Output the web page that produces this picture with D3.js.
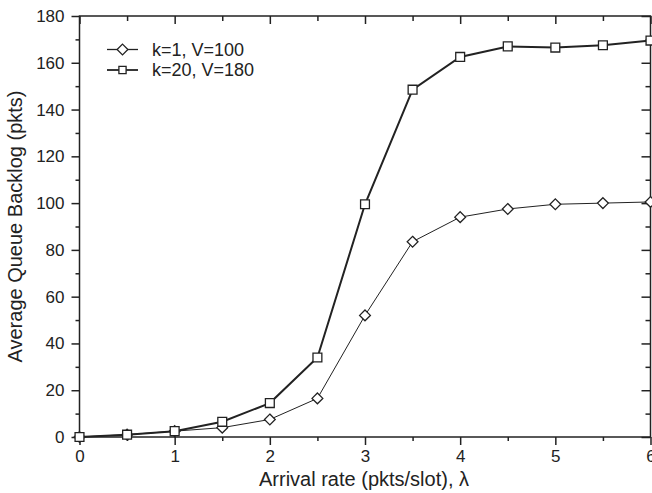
<!DOCTYPE html>
<html>
<head>
<meta charset="utf-8">
<script src="https://cdn.jsdelivr.net/npm/d3@7"></script>
<style>
  body { margin: 0; background: #fff; }
  svg text { font-family: "Liberation Sans", Arial, sans-serif; fill: #222; }
</style>
</head>
<body>
<div id="chart"></div>
<script>
// Data
const lambdas = [0, 0.5, 1, 1.5, 2, 2.5, 3, 3.5, 4, 4.5, 5, 5.5, 6];
const backlogK1 = [0, 1, 2.5, 4, 7.5, 16.5, 52, 83.5, 94, 97.5, 99.5, 100, 100.5];
const backlogK20 = [0, 1, 2.5, 6.5, 14.5, 34, 99.5, 148.5, 162.5, 167, 166.5, 167.5, 169.5];
const xTicks = [0, 1, 2, 3, 4, 5, 6];
const yTicks = [0, 20, 40, 60, 80, 100, 120, 140, 160, 180];
const seriesNames = ["k=1, V=100", "k=20, V=180"];

// Dimensions
const dims = { width: 652, height: 493, margin: { top: 16, right: 2, bottom: 56, left: 79.5 } };
dims.ctrWidth = 650.5 - dims.margin.left;
dims.ctrHeight = 437 - dims.margin.top;

const svg = d3.select("#chart").append("svg")
  .attr("width", dims.width)
  .attr("height", dims.height);

const ctr = svg.append("g")
  .attr("transform", `translate(${dims.margin.left}, ${dims.margin.top})`);

// Scales
const xScale = d3.scaleLinear().domain([0, 6]).range([0, dims.ctrWidth]);
const yScale = d3.scaleLinear().domain([0, 180]).range([dims.ctrHeight, 0]);

const ink = "#222";

// Axes: bottom/left ticks outward, top/right mirrored ticks inward
const minorX = d3.range(0.5, 6, 1);
const minorY = d3.range(10, 180, 20);

function styleAxis(g) {
  g.select(".domain").remove();
  g.selectAll("line").attr("stroke", ink).attr("stroke-width", 1.5);
  g.selectAll("text").style("font-size", "17px").attr("fill", ink);
}

ctr.append("g").attr("transform", `translate(0,${dims.ctrHeight})`)
  .call(d3.axisBottom(xScale).tickValues(xTicks).tickSize(8).tickPadding(5).tickFormat(d3.format("d")))
  .call(styleAxis);
ctr.append("g").attr("transform", `translate(0,${dims.ctrHeight})`)
  .call(d3.axisBottom(xScale).tickValues(minorX).tickSize(4).tickFormat(""))
  .call(styleAxis);
ctr.append("g")
  .call(d3.axisTop(xScale).tickValues(xTicks).tickSize(-8).tickFormat(""))
  .call(styleAxis);
ctr.append("g")
  .call(d3.axisTop(xScale).tickValues(minorX).tickSize(-5).tickFormat(""))
  .call(styleAxis);

ctr.append("g")
  .call(d3.axisLeft(yScale).tickValues(yTicks).tickSize(8).tickPadding(7))
  .call(styleAxis);
ctr.append("g")
  .call(d3.axisLeft(yScale).tickValues(minorY).tickSize(4).tickFormat(""))
  .call(styleAxis);
ctr.append("g").attr("transform", `translate(${dims.ctrWidth},0)`)
  .call(d3.axisRight(yScale).tickValues(yTicks).tickSize(-9).tickFormat(""))
  .call(styleAxis);
ctr.append("g").attr("transform", `translate(${dims.ctrWidth},0)`)
  .call(d3.axisRight(yScale).tickValues(minorY).tickSize(-5).tickFormat(""))
  .call(styleAxis);

// Frame
ctr.append("rect")
  .attr("width", dims.ctrWidth)
  .attr("height", dims.ctrHeight)
  .attr("fill", "none")
  .attr("stroke", ink)
  .attr("stroke-width", 1.5);

// Axis titles
svg.append("text")
  .attr("x", 364)
  .attr("y", 485.5)
  .attr("text-anchor", "middle")
  .style("font-size", "20px")
  .text("Arrival rate (pkts/slot), λ");

svg.append("text")
  .attr("transform", `translate(22, ${dims.margin.top + dims.ctrHeight / 2}) rotate(-90)`)
  .attr("text-anchor", "middle")
  .style("font-size", "20px")
  .text("Average Queue Backlog (pkts)");

// Lines + markers
const line = d3.line()
  .x((d, i) => xScale(lambdas[i]))
  .y((d) => yScale(d));

const series = [
  { name: seriesNames[0], values: backlogK1, width: 1, type: d3.symbolDiamond2, size: 74, legendSize: 74 },
  { name: seriesNames[1], values: backlogK20, width: 2, type: d3.symbolSquare2, size: 100, legendSize: 66 },
];

series.forEach((s) => {
  ctr.append("path")
    .attr("d", line(s.values))
    .attr("fill", "none")
    .attr("stroke", ink)
    .attr("stroke-width", s.width);
});

series.forEach((s) => {
  ctr.append("g").selectAll("path")
    .data(s.values)
    .join("path")
    .attr("transform", (d, i) => `translate(${xScale(lambdas[i])},${yScale(d)})`)
    .attr("d", d3.symbol().type(s.type).size(s.size)())
    .attr("fill", "#fff")
    .attr("stroke", ink)
    .attr("stroke-width", 1.3);
});

// Legend
const legend = svg.append("g").attr("transform", "translate(107, 49.5)");
series.forEach((s, i) => {
  const row = legend.append("g").attr("transform", `translate(0, ${i * 20.5})`);
  row.append("line")
    .attr("x1", 0).attr("x2", 31)
    .attr("stroke", ink).attr("stroke-width", s.width === 1 ? 1.3 : 1.8);
  row.append("path")
    .attr("transform", "translate(15.5,0)")
    .attr("d", d3.symbol().type(s.type).size(s.legendSize)())
    .attr("fill", "#fff")
    .attr("stroke", ink)
    .attr("stroke-width", 1.3);
  row.append("text")
    .attr("x", 45)
    .attr("y", 6)
    .style("font-size", "18px")
    .text(s.name);
});
</script>
</body>
</html>
